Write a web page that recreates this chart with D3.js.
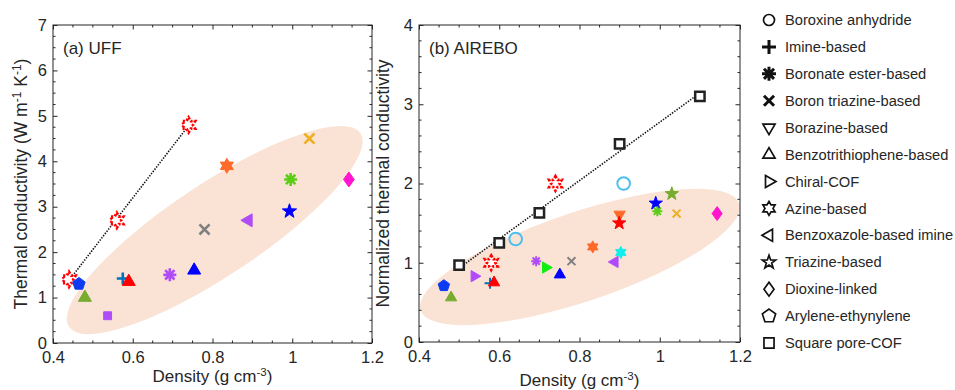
<!DOCTYPE html>
<html>
<head>
<meta charset="utf-8">
<script src="https://cdn.jsdelivr.net/npm/d3@7"></script>
<style>
  body { margin: 0; background: #fff; }
  text { font-family: "Liberation Sans", Arial, sans-serif; fill: #262626; }
</style>
</head>
<body>
<svg id="chart" width="955" height="390"></svg>
<script>
// --- data

const categories = ['Boroxine anhydride', 'Imine-based', 'Boronate ester-based', 'Boron triazine-based',
  'Borazine-based', 'Benzotrithiophene-based', 'Chiral-COF', 'Azine-based', 'Benzoxazole-based imine',
  'Triazine-based', 'Dioxine-linked', 'Arylene-ethynylene', 'Square pore-COF']
const categoryShapes = ['circle', 'plus', 'asterisk', 'cross', 'triDown', 'triUp', 'triRight',
  'hexagram', 'triLeft', 'star', 'diamond', 'pentagon', 'square']

const xTicks = [0.4, 0.6, 0.8, 1, 1.2]
const uffYTicks = [0, 1, 2, 3, 4, 5, 6, 7]
const airYTicks = [0, 1, 2, 3, 4]

// (a) UFF
const uffAzineX = [0.44, 0.56, 0.74]
const uffAzineY = [1.4, 2.7, 4.8]
const uffX = [0.465, 0.48, 0.537, 0.575, 0.59, 0.693, 0.754, 0.78, 0.836, 0.89, 0.993, 0.996, 1.043, 1.142]
const uffY = [1.3, 1.0, 0.6, 1.42, 1.35, 1.5, 1.6, 2.5, 3.9, 2.7, 2.9, 3.6, 4.5, 3.6]
const uffShape = ['pentagon', 'triUp', 'square', 'plus', 'triUp', 'asterisk', 'triUp', 'cross',
  'hexagram', 'triLeft', 'star', 'asterisk', 'cross', 'diamond']
const uffColor = ['#0D3BF2', '#77AC30', '#B04CF7', '#0072BD', '#FF0000', '#B04CF7', '#0000FF', '#808080',
  '#FF6A2B', '#B04CF7', '#0000FF', '#5ACD14', '#EDB120', '#FF14D0']
// ellipse: centre x, centre y, major tip x, major tip y, minor/major ratio
const uffEllipse = [0.8055, 2.487, 1.171, 4.618, 0.263]

// (b) AIREBO
const airSquareX = [0.5, 0.6, 0.7, 0.9, 1.1]
const airSquareY = [0.97, 1.25, 1.63, 2.5, 3.1]
const airAzineX = [0.58, 0.74]
const airAzineY = [1.0, 2.0]
const airX = [0.641, 0.91, 0.462, 0.48, 0.538, 0.577, 0.587, 0.692, 0.716, 0.751, 0.78, 0.833, 0.888,
  0.903, 0.9, 0.899, 0.99, 0.994, 1.03, 1.042, 1.143]
const airY = [1.3, 2.0, 0.71, 0.56, 0.83, 0.74, 0.75, 1.02, 0.94, 0.85, 1.02, 1.2, 1.01,
  1.13, 1.61, 1.5, 1.75, 1.65, 1.87, 1.62, 1.62]
const airShape = ['ring', 'ring', 'pentagon', 'triUp', 'triRight', 'plus', 'triUp', 'asterisk', 'triRight',
  'triUp', 'cross', 'hexagram', 'triLeft', 'hexagram', 'triDown', 'star', 'star', 'asterisk', 'star',
  'cross', 'diamond']
const airColor = ['#4DBEEE', '#4DBEEE', '#0D3BF2', '#77AC30', '#B04CF7', '#0072BD', '#FF0000', '#B04CF7',
  '#11EE11', '#0000FF', '#808080', '#FF6A2B', '#B04CF7', '#11EEEE', '#FF6A2B', '#FF0000', '#0000FF',
  '#5ACD14', '#77AC30', '#EDB120', '#FF14D0']
const airEllipse = [0.801, 1.073, 1.198, 1.749, 0.265]

// --- helpers

const svg = d3.select('#chart')
svg.append('rect').attr('width', 955).attr('height', 390).attr('fill', '#fff')

const strokeShapes = ['plus', 'cross', 'asterisk']

function poly(n, rot, rad) {
  const pts = d3.range(n).map(i => {
    const a = rot + i * 2 * Math.PI / n
    return [rad(i) * Math.cos(a), rad(i) * Math.sin(a)]
  })
  return 'M' + pts.map(p => p[0].toFixed(2) + ',' + p[1].toFixed(2)).join('L') + 'Z'
}

function markerPath(shape, r) {
  const up = -Math.PI / 2
  const k = 0.72 * r
  switch (shape) {
    case 'circle':
    case 'ring': return `M${r},0A${r},${r} 0 1 1 ${-r},0A${r},${r} 0 1 1 ${r},0Z`
    case 'triUp': return poly(3, up, () => r)
    case 'triDown': return poly(3, -up, () => r)
    case 'triLeft': return poly(3, Math.PI, () => r)
    case 'triRight': return poly(3, 0, () => r)
    case 'pentagon': return poly(5, up, () => r)
    case 'star': return poly(10, up, i => i % 2 ? r * 0.4 : r)
    case 'hexagram':
    case 'azine': return poly(12, up, i => i % 2 ? r * 0.577 : r)
    case 'diamond': return `M0,${-r}L${0.72 * r},0L0,${r}L${-0.72 * r},0Z`
    case 'square':
    case 'box': return `M${-k},${-k}H${k}V${k}H${-k}Z`
    case 'plus': return `M${-r},0H${r}M0,${-r}V${r}`
    case 'cross': return `M${-k},${-k}L${k},${k}M${-k},${k}L${k},${-k}`
    case 'asterisk': return `M${-r},0H${r}M0,${-r}V${r}M${-k},${-k}L${k},${k}M${-k},${k}L${k},${-k}`
  }
}

function styleMarker(sel, shape, color, sw) {
  if (strokeShapes.includes(shape)) {
    sel.attr('fill', 'none').attr('stroke', color).attr('stroke-width', sw)
  } else if (shape === 'ring') {
    sel.attr('fill', 'none').attr('stroke', color).attr('stroke-width', 2)
  } else if (shape === 'box') {
    sel.attr('fill', '#fff').attr('stroke', color).attr('stroke-width', 2.5)
  } else if (shape === 'azine') {
    sel.attr('fill', '#fff').attr('stroke', color).attr('stroke-width', 2.8)
      .attr('stroke-dasharray', '2.2,1.8')
  } else {
    sel.attr('fill', color).attr('stroke', color).attr('stroke-width', 1)
  }
}

function fitLine(xs, ys) {
  const mx = d3.mean(xs), my = d3.mean(ys)
  const slope = d3.sum(xs, (x, i) => (x - mx) * (ys[i] - my)) / d3.sum(xs, x => (x - mx) ** 2)
  const ext = d3.extent(xs)
  return ext.map(x => [x, my + slope * (x - mx)])
}

// --- panel

function drawPanel(p) {
  const x = d3.scaleLinear().domain([0.4, 1.2]).range([p.left, p.right])
  const y = d3.scaleLinear().domain([0, p.yMax]).range([p.bottom, p.top])
  const g = svg.append('g')

  const clipId = 'clip-' + p.id
  g.append('clipPath').attr('id', clipId).append('rect')
    .attr('x', p.left).attr('y', p.top).attr('width', p.right - p.left).attr('height', p.bottom - p.top)

  // shaded ellipse (clip on a wrapping group so the rotation doesn't move the clip box)
  const [ecx, ecy, etx, ety, ratio] = p.ellipse
  const cx = x(ecx), cy = y(ecy)
  const ra = Math.hypot(x(etx) - cx, y(ety) - cy)
  const ang = Math.atan2(y(ety) - cy, x(etx) - cx) * 180 / Math.PI
  g.append('g').attr('clip-path', `url(#${clipId})`)
    .append('ellipse')
    .attr('cx', cx).attr('cy', cy).attr('rx', ra).attr('ry', ra * ratio)
    .attr('transform', `rotate(${ang},${cx},${cy})`)
    .attr('fill', '#FAE3D5')

  // fit line
  g.append('path')
    .attr('d', d3.line().x(d => x(d[0])).y(d => y(d[1]))(fitLine(p.fitX, p.fitY)))
    .attr('fill', 'none').attr('stroke', '#111').attr('stroke-width', 1.6)
    .attr('stroke-dasharray', '1.4,1.4')

  // points
  const pts = p.series.flatMap(s => s.x.map((v, i) => ({ x: v, y: s.y[i], shape: s.shape[i], color: s.color[i] })))
  pts.forEach(d => {
    g.append('path')
      .attr('d', markerPath(d.shape, p.r[d.shape] || p.r.base))
      .attr('transform', `translate(${x(d.x)},${y(d.y)})`)
      .call(styleMarker, d.shape, d.color, p.sw)
  })

  // axes: inward ticks on all four sides
  const minorX = d3.range(0.4, 1.2001, 0.05).filter(v => !xTicks.some(t => Math.abs(t - v) < 1e-6))
  const minorY = d3.range(0, p.yMax + 1e-6, p.yMinor).filter(v => Math.abs(v - Math.round(v)) > 1e-6)
  const fmt = d => String(+d.toFixed(1))
  const axes = [
    [d3.axisBottom(x).tickValues(xTicks).tickFormat(fmt).tickPadding(8), [0, p.bottom]],
    [d3.axisTop(x).tickValues(xTicks).tickFormat(''), [0, p.top]],
    [d3.axisLeft(y).tickValues(p.yTicks).tickFormat(fmt).tickPadding(6), [p.left, 0]],
    [d3.axisRight(y).tickValues(p.yTicks).tickFormat(''), [p.right, 0]]
  ]
  axes.forEach(([ax, tr]) => {
    g.append('g').attr('transform', `translate(${tr})`)
      .call(ax.tickSizeInner(-4.5).tickSizeOuter(0))
      .call(a => a.select('.domain').remove())
      .call(a => a.selectAll('line').attr('stroke', '#262626'))
      .call(a => a.selectAll('text').filter(function () { return !this.textContent }).remove())
      .call(a => a.selectAll('text').attr('font-size', 16.5).attr('fill', '#262626')
        .attr('font-family', '"Liberation Sans", Arial, sans-serif'))
  })
  const minor = g.append('g').attr('stroke', '#262626').attr('stroke-width', 1)
  minorX.forEach(v => {
    minor.append('line').attr('x1', x(v)).attr('x2', x(v)).attr('y1', p.bottom).attr('y2', p.bottom - 2.5)
    minor.append('line').attr('x1', x(v)).attr('x2', x(v)).attr('y1', p.top).attr('y2', p.top + 2.5)
  })
  minorY.forEach(v => {
    minor.append('line').attr('x1', p.left).attr('x2', p.left + 2.5).attr('y1', y(v)).attr('y2', y(v))
    minor.append('line').attr('x1', p.right).attr('x2', p.right - 2.5).attr('y1', y(v)).attr('y2', y(v))
  })
  g.append('rect')
    .attr('x', p.left).attr('y', p.top).attr('width', p.right - p.left).attr('height', p.bottom - p.top)
    .attr('fill', 'none').attr('stroke', '#262626').attr('stroke-width', 1)

  // panel title
  g.append('text').attr('x', p.left + 10).attr('y', p.top + 29).attr('font-size', 17).text(p.title)

  // x label
  const xl = g.append('text').attr('x', (p.left + p.right) / 2).attr('y', p.xLabelY)
    .attr('text-anchor', 'middle').attr('font-size', 17)
  xl.append('tspan').text('Density (g cm')
  xl.append('tspan').attr('dy', -6).attr('font-size', 11.5).text('-3')
  xl.append('tspan').attr('dy', 6).text(')')

  // y label (pieces: [text, isSuperscript])
  const yl = g.append('text')
    .attr('transform', `translate(${p.yLabelX},${(p.top + p.bottom) / 2}) rotate(-90)`)
    .attr('text-anchor', 'middle').attr('font-size', 17.5)
  let raised = false
  p.yLabel.forEach(([t, sup]) => {
    const ts = yl.append('tspan').text(t)
    if (sup && !raised) ts.attr('dy', -6).attr('font-size', 12)
    else if (sup) ts.attr('font-size', 12)
    else if (raised) ts.attr('dy', 6)
    raised = !!sup
  })
}

drawPanel({
  id: 'a', title: '(a) UFF', left: 53, right: 372, top: 25, bottom: 343, yMax: 7,
  yTicks: uffYTicks, yMinor: 0.25, ellipse: uffEllipse,
  fitX: uffAzineX, fitY: uffAzineY, sw: 2.6,
  r: { base: 7.5, square: 5.5, pentagon: 6.5, cross: 7, plus: 6, asterisk: 6.5, diamond: 7.5, hexagram: 7.5, azine: 7.5 },
  series: [
    { x: uffAzineX, y: uffAzineY, shape: uffAzineX.map(() => 'azine'), color: uffAzineX.map(() => '#FF0000') },
    { x: uffX, y: uffY, shape: uffShape, color: uffColor }
  ],
  xLabelY: 382, yLabelX: 27,
  yLabel: [['Thermal conductivity (W m'], ['-1', true], [' K'], ['-1', true], [')']]
})

drawPanel({
  id: 'b', title: '(b) AIREBO', left: 419, right: 740, top: 25, bottom: 342, yMax: 4,
  yTicks: airYTicks, yMinor: 0.2, ellipse: airEllipse,
  fitX: airSquareX, fitY: airSquareY, sw: 2,
  r: { base: 6.5, box: 6.5, ring: 6.3, pentagon: 6, cross: 5.5, plus: 5.5, asterisk: 5, diamond: 7, hexagram: 6, azine: 7.2, star: 7 },
  series: [
    { x: airSquareX, y: airSquareY, shape: airSquareX.map(() => 'box'), color: airSquareX.map(() => '#222') },
    { x: airAzineX, y: airAzineY, shape: airAzineX.map(() => 'azine'), color: airAzineX.map(() => '#FF0000') },
    { x: airX, y: airY, shape: airShape, color: airColor }
  ],
  xLabelY: 385.5, yLabelX: 389,
  yLabel: [['Normalized thermal conductivity']]
})

// --- legend
const ly = d3.scalePoint().domain(categories).range([20, 343])
const legend = svg.append('g')
categories.forEach((c, i) => {
  const shape = categoryShapes[i]
  const open = !strokeShapes.includes(shape)
  legend.append('path')
    .attr('d', markerPath(shape, shape === 'square' ? 7 : shape === 'circle' ? 5.5 : 7))
    .attr('transform', `translate(769,${ly(c)})`)
    .attr('fill', 'none')
    .attr('stroke', '#111')
    .attr('stroke-width', open ? 1.7 : 3)
  legend.append('text').attr('x', 785).attr('y', ly(c)).attr('dy', '0.35em')
    .attr('font-size', 14.7).text(c)
})
</script>
</body>
</html>
